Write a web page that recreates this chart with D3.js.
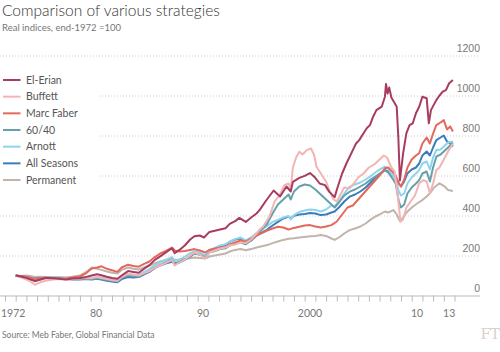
<!DOCTYPE html>
<html>
<head>
<meta charset="utf-8">
<script src="https://cdn.jsdelivr.net/npm/d3@7"></script>
<style>
  body { margin: 0; background: #fff; }
  svg { display: block; font-family: Lato, "Open Sans", sans-serif; }
</style>
</head>
<body>
<svg id="chart" width="500" height="352"></svg>
<script>
// values: [decimal year, index level]
var elErian = [[1973,100],[1973.5,95],[1974,88],[1974.5,78],[1974.8,72],[1975.3,80],[1975.8,88],[1976.5,86],[1977,84],[1977.7,80],[1978.3,85],[1979,88],[1979.6,93],[1980.1,100],[1980.6,106],[1981,101],[1981.5,94],[1982,88],[1982.5,84],[1982.9,100],[1983.5,122],[1984,118],[1984.5,114],[1985,134],[1985.5,152],[1986,178],[1986.5,196],[1987,214],[1987.6,236],[1987.85,212],[1988.3,228],[1988.8,250],[1989.3,280],[1989.7,296],[1990.2,300],[1990.6,290],[1991.1,318],[1991.6,324],[1992.1,330],[1992.6,336],[1993,358],[1993.5,372],[1993.9,388],[1994.5,368],[1995,390],[1995.5,410],[1995.8,428],[1996.4,475],[1997.1,525],[1997.7,495],[1998.3,545],[1998.7,520],[1998.9,568],[1999.5,588],[2000,598],[2000.5,612],[2000.9,594],[2001.4,560],[2001.9,552],[2002.3,518],[2002.8,492],[2003.1,545],[2003.5,610],[2003.9,660],[2004.5,727],[2004.8,760],[2005.1,777],[2005.5,811],[2005.8,836],[2006.1,852],[2006.4,894],[2006.7,927],[2007.2,944],[2007.5,994],[2007.6,1058],[2007.75,1010],[2007.9,1040],[2008.1,990],[2008.4,962],[2008.6,944],[2008.75,794],[2008.9,575],[2009.2,711],[2009.5,811],[2009.8,852],[2010.1,861],[2010.4,911],[2010.7,944],[2011,994],[2011.4,986],[2011.6,861],[2011.8,927],[2012.3,977],[2012.6,1000],[2012.9,1019],[2013.2,1027],[2013.5,1061],[2013.85,1077]];
var buffett = [[1973,100],[1973.5,90],[1974,80],[1974.5,65],[1974.8,54],[1975.3,66],[1975.8,74],[1976.5,80],[1977,82],[1977.7,80],[1978.3,82],[1979,85],[1979.6,88],[1980.1,86],[1980.6,92],[1981,88],[1981.5,82],[1982,78],[1982.5,74],[1982.9,92],[1983.5,108],[1984,104],[1984.5,100],[1985,112],[1985.5,122],[1986,140],[1986.5,150],[1987,162],[1987.6,178],[1987.85,150],[1988.3,165],[1988.8,180],[1989.3,200],[1989.7,215],[1990.2,205],[1990.7,185],[1991.1,215],[1991.6,225],[1992.1,235],[1992.6,240],[1993,250],[1993.5,255],[1994,265],[1994.5,262],[1995,280],[1995.5,310],[1995.8,330],[1996.1,344],[1996.7,394],[1997.2,470],[1997.7,505],[1998.1,552],[1998.5,560],[1998.7,530],[1998.9,640],[1999.2,690],[1999.5,719],[1999.8,705],[2000.2,727],[2000.6,735],[2000.9,700],[2001.1,644],[2001.4,620],[2001.7,594],[2002,570],[2002.3,527],[2002.7,480],[2003,470],[2003.3,500],[2003.7,540],[2004.2,536],[2004.6,560],[2005,590],[2005.5,610],[2006,640],[2006.5,655],[2007,680],[2007.4,700],[2007.7,690],[2008.1,640],[2008.4,620],[2008.7,500],[2008.95,369],[2009.2,380],[2009.5,440],[2009.9,470],[2010.3,500],[2010.7,561],[2011.1,577],[2011.4,570],[2011.7,511],[2012,560],[2012.3,627],[2012.6,640],[2013,680],[2013.4,720],[2013.85,760]];
var faber = [[1973,100],[1973.5,96],[1974,92],[1974.5,86],[1974.8,82],[1975.3,86],[1975.8,90],[1976.5,88],[1977,86],[1977.7,85],[1978.3,90],[1979,95],[1979.6,112],[1980.1,135],[1980.6,140],[1981,146],[1981.5,134],[1982,126],[1982.5,118],[1982.9,140],[1983.5,154],[1984,148],[1984.5,144],[1985,158],[1985.5,170],[1986,192],[1986.5,210],[1987,222],[1987.6,240],[1987.85,225],[1988.3,220],[1988.8,222],[1989.3,228],[1989.7,232],[1990.2,225],[1990.7,215],[1991.1,228],[1991.6,235],[1992.1,240],[1992.6,242],[1993,255],[1993.5,265],[1994,275],[1994.5,270],[1995,285],[1995.5,300],[1996,312],[1996.5,325],[1997,335],[1997.5,344],[1998,340],[1998.5,330],[1999,338],[1999.5,344],[2000,350],[2000.5,352],[2001,345],[2001.5,340],[2002,345],[2002.5,352],[2003,370],[2003.5,405],[2004,440],[2004.5,450],[2005,480],[2005.5,510],[2006,540],[2006.5,570],[2007,600],[2007.5,636],[2007.8,640],[2008.2,620],[2008.5,600],[2008.8,560],[2009,545],[2009.3,580],[2009.6,640],[2010,680],[2010.4,700],[2010.7,711],[2011,760],[2011.4,790],[2011.7,760],[2012,810],[2012.3,852],[2012.7,865],[2013,877],[2013.3,830],[2013.6,845],[2013.85,820]];
var sixtyForty = [[1973,100],[1973.5,94],[1974,86],[1974.5,78],[1974.8,72],[1975.3,80],[1975.8,86],[1976.5,88],[1977,86],[1977.7,82],[1978.3,82],[1979,84],[1979.6,84],[1980.1,82],[1980.6,86],[1981,84],[1981.5,78],[1982,74],[1982.5,70],[1982.9,88],[1983.5,100],[1984,96],[1984.5,94],[1985,108],[1985.5,122],[1986,140],[1986.5,152],[1987,166],[1987.6,180],[1987.85,158],[1988.3,165],[1988.8,178],[1989.3,198],[1989.7,210],[1990.2,205],[1990.7,190],[1991.1,215],[1991.6,222],[1992.1,232],[1992.6,236],[1993,250],[1993.5,258],[1994,265],[1994.5,256],[1995,275],[1995.5,300],[1996,330],[1996.5,360],[1997,410],[1997.5,455],[1998,480],[1998.5,505],[1998.7,480],[1999,520],[1999.5,545],[2000,555],[2000.5,550],[2001,530],[2001.5,505],[2002,480],[2002.5,455],[2002.8,440],[2003.2,465],[2003.7,500],[2004.2,519],[2004.7,530],[2005.2,545],[2005.7,560],[2006.1,577],[2006.6,595],[2007,610],[2007.5,627],[2007.8,615],[2008.2,585],[2008.5,560],[2008.8,470],[2009,440],[2009.3,455],[2009.6,510],[2010,540],[2010.4,560],[2010.7,577],[2011,610],[2011.4,620],[2011.7,570],[2012,640],[2012.3,694],[2012.7,705],[2013,720],[2013.4,740],[2013.85,765]];
var arnott = [[1973,100],[1973.5,95],[1974,88],[1974.5,80],[1974.8,76],[1975.3,84],[1975.8,90],[1976.5,92],[1977,90],[1977.7,86],[1978.3,86],[1979,88],[1979.6,90],[1980.1,88],[1980.6,92],[1981,90],[1981.5,84],[1982,80],[1982.5,76],[1982.9,95],[1983.5,108],[1984,104],[1984.5,102],[1985,118],[1985.5,132],[1986,152],[1986.5,165],[1987,178],[1987.6,192],[1987.85,172],[1988.3,180],[1988.8,195],[1989.3,212],[1989.7,222],[1990.2,215],[1990.7,200],[1991.1,228],[1991.6,238],[1992.1,250],[1992.6,256],[1993,270],[1993.5,282],[1994,290],[1994.5,276],[1995,290],[1995.5,312],[1996,330],[1996.5,348],[1997,368],[1997.5,378],[1998,390],[1998.5,398],[1998.7,380],[1999,402],[1999.5,418],[2000,425],[2000.5,430],[2001,428],[2001.5,420],[2002,430],[2002.5,450],[2002.8,445],[2003.2,470],[2003.7,510],[2004.2,544],[2004.7,555],[2005.2,565],[2005.7,580],[2006.1,594],[2006.6,615],[2007,630],[2007.5,644],[2007.8,635],[2008.2,600],[2008.5,580],[2008.8,520],[2009,500],[2009.3,510],[2009.6,560],[2010,590],[2010.4,610],[2010.7,627],[2011,660],[2011.4,670],[2011.7,630],[2012,690],[2012.3,727],[2012.7,730],[2013,745],[2013.4,765],[2013.85,770]];
var allSeasons = [[1973,100],[1973.5,96],[1974,92],[1974.5,86],[1974.8,84],[1975.3,86],[1975.8,88],[1976.5,90],[1977,86],[1977.7,82],[1978.3,80],[1979,80],[1979.6,82],[1980.1,80],[1980.6,84],[1981,80],[1981.5,74],[1982,70],[1982.5,66],[1982.9,82],[1983.5,92],[1984,90],[1984.5,92],[1985,106],[1985.5,118],[1986,138],[1986.5,150],[1987,160],[1987.6,168],[1987.85,160],[1988.3,168],[1988.8,180],[1989.3,196],[1989.7,210],[1990.2,205],[1990.7,198],[1991.1,222],[1991.6,232],[1992.1,245],[1992.6,252],[1993,268],[1993.5,280],[1994,285],[1994.5,265],[1995,275],[1995.5,300],[1996,315],[1996.5,330],[1997,350],[1997.5,368],[1998,385],[1998.5,395],[1998.7,385],[1999,398],[1999.5,405],[2000,408],[2000.5,412],[2001,410],[2001.5,402],[2002,405],[2002.5,415],[2002.8,420],[2003.2,440],[2003.7,470],[2004.2,494],[2004.7,505],[2005.2,520],[2005.7,540],[2006.1,561],[2006.6,590],[2007,605],[2007.5,627],[2007.8,620],[2008.2,600],[2008.5,590],[2008.8,560],[2009,545],[2009.3,570],[2009.6,610],[2010,630],[2010.4,640],[2010.7,660],[2011,700],[2011.4,720],[2011.7,700],[2012,740],[2012.3,777],[2012.7,790],[2013,800],[2013.3,770],[2013.6,760],[2013.85,745]];
var permanent = [[1973,100],[1973.5,98],[1974,100],[1974.5,96],[1974.8,92],[1975.3,94],[1975.8,92],[1976.5,90],[1977,92],[1977.7,90],[1978.3,94],[1979,100],[1979.6,118],[1980.1,140],[1980.6,134],[1981,128],[1981.5,120],[1982,114],[1982.5,110],[1982.9,128],[1983.5,140],[1984,134],[1984.5,130],[1985,140],[1985.5,150],[1986,162],[1986.5,170],[1987,178],[1987.6,186],[1987.85,178],[1988.3,180],[1988.8,183],[1989.3,186],[1989.7,190],[1990.2,188],[1990.7,185],[1991.1,195],[1991.6,200],[1992.1,205],[1992.6,210],[1993,220],[1993.5,228],[1994,232],[1994.5,226],[1995,232],[1995.5,240],[1996,246],[1996.5,252],[1997,262],[1997.5,270],[1998,278],[1998.5,284],[1999,286],[1999.5,290],[2000,293],[2000.5,296],[2001,298],[2001.5,302],[2002,298],[2002.5,285],[2002.8,278],[2003.2,290],[2003.7,310],[2004.2,327],[2004.7,335],[2005.2,345],[2005.7,360],[2006.1,377],[2006.6,395],[2007,405],[2007.5,420],[2007.8,415],[2008.3,427],[2008.6,405],[2008.9,372],[2009.2,390],[2009.6,420],[2010.1,444],[2010.5,460],[2011,477],[2011.4,495],[2011.7,511],[2012.1,540],[2012.6,561],[2013.1,544],[2013.4,527],[2013.85,522]];

var names = ["El-Erian", "Buffett", "Marc Faber", "60/40", "Arnott", "All Seasons", "Permanent"];
var colors = ["#a83c60", "#f3b4b4", "#e2695c", "#66a0ac", "#8fd4ea", "#3b7cbf", "#c1b4aa"];
var seriesList = [elErian, buffett, faber, sixtyForty, arnott, allSeasons, permanent];

var yTicks = [0, 200, 400, 600, 800, 1000, 1200];
var xLabelYears = [1972, 1980, 1990, 2000, 2010, 2013];
var xLabels = ["1972", "80", "90", "2000", "10", "13"];

var svg = d3.select("#chart");

var x = d3.scaleLinear().domain([1972, 2014]).range([5, 454.5]);
var y = d3.scaleLinear().domain([0, 1200]).range([295.5, 55.5]);

// title block
svg.append("text")
    .attr("x", 2).attr("y", 16)
    .attr("font-size", 15.5).attr("font-weight", 300).attr("fill", "#333")
    .text("Comparison of various strategies");
svg.append("text")
    .attr("x", 2).attr("y", 31)
    .attr("font-size", 9.5).attr("fill", "#777")
    .text("Real indices, end-1972 =100");

// horizontal grid + right-hand labels
var yAxis = d3.axisLeft(y).tickValues(yTicks).tickSize(-480).tickPadding(0).tickFormat(d3.format("d"));
var gy = svg.append("g").call(yAxis);
gy.select(".domain").remove();
gy.selectAll(".tick line")
    .attr("stroke", function(d) { return d === 0 ? "#bbb" : "#ccc"; })
    .attr("stroke-dasharray", function(d) { return d === 0 ? null : "1,2"; });
gy.selectAll(".tick text")
    .attr("x", 480).attr("dy", -4)
    .attr("text-anchor", "end")
    .attr("font-family", null).attr("font-size", 10.5)
    .attr("fill", "#777");

// year ticks along the bottom
var xAxis = d3.axisBottom(x).tickValues(d3.range(1972, 2015)).tickSize(6).tickFormat("");
var gx = svg.append("g").attr("transform", "translate(0,295.5)").call(xAxis);
gx.select(".domain").remove();
gx.selectAll(".tick line").attr("stroke", "#bbb");

svg.append("g").selectAll("text")
    .data(xLabelYears)
    .enter()
    .append("text")
    .attr("x", function(d, i) { return i === 0 ? 1 : x(d + 0.5); })
    .attr("y", 317)
    .attr("text-anchor", function(d, i) { return i === 0 ? "start" : "middle"; })
    .attr("font-size", 10.5).attr("fill", "#777")
    .text(function(d, i) { return xLabels[i]; });

// lines, drawn bottom legend item first so El-Erian sits on top
var line = d3.line()
    .x(function(d) { return x(d[0]); })
    .y(function(d) { return y(d[1]); });

for (var i = seriesList.length - 1; i >= 0; i--) {
    svg.append("path")
        .datum(seriesList[i])
        .attr("fill", "none")
        .attr("stroke", colors[i])
        .attr("stroke-width", 2)
        .attr("stroke-linejoin", "round")
        .attr("d", line);
}

// legend
svg.append("rect")
    .attr("x", 0).attr("y", 68)
    .attr("width", 98).attr("height", 122)
    .attr("fill", "#fff");

var legendItems = svg.append("g").selectAll("g")
    .data(names)
    .enter()
    .append("g")
    .attr("transform", function(d, i) { return "translate(0," + (80 + i * 16.67) + ")"; });

legendItems.append("line")
    .attr("x1", 3).attr("x2", 20.5)
    .attr("stroke", function(d, i) { return colors[i]; })
    .attr("stroke-width", 2);

legendItems.append("text")
    .attr("x", 26).attr("y", 3.8)
    .attr("font-size", 10.5).attr("fill", "#555")
    .text(function(d) { return d; });

// footer
svg.append("text")
    .attr("x", 2).attr("y", 338)
    .attr("font-size", 8.5).attr("fill", "#777")
    .text("Source: Meb Faber, Global Financial Data");
svg.append("text")
    .attr("x", 499).attr("y", 339)
    .attr("text-anchor", "end")
    .attr("font-family", "'DejaVu Serif', 'Liberation Serif', serif")
    .attr("font-size", 15).attr("fill", "#ddd0ca")
    .attr("letter-spacing", -1)
    .text("FT");
</script>
</body>
</html>
